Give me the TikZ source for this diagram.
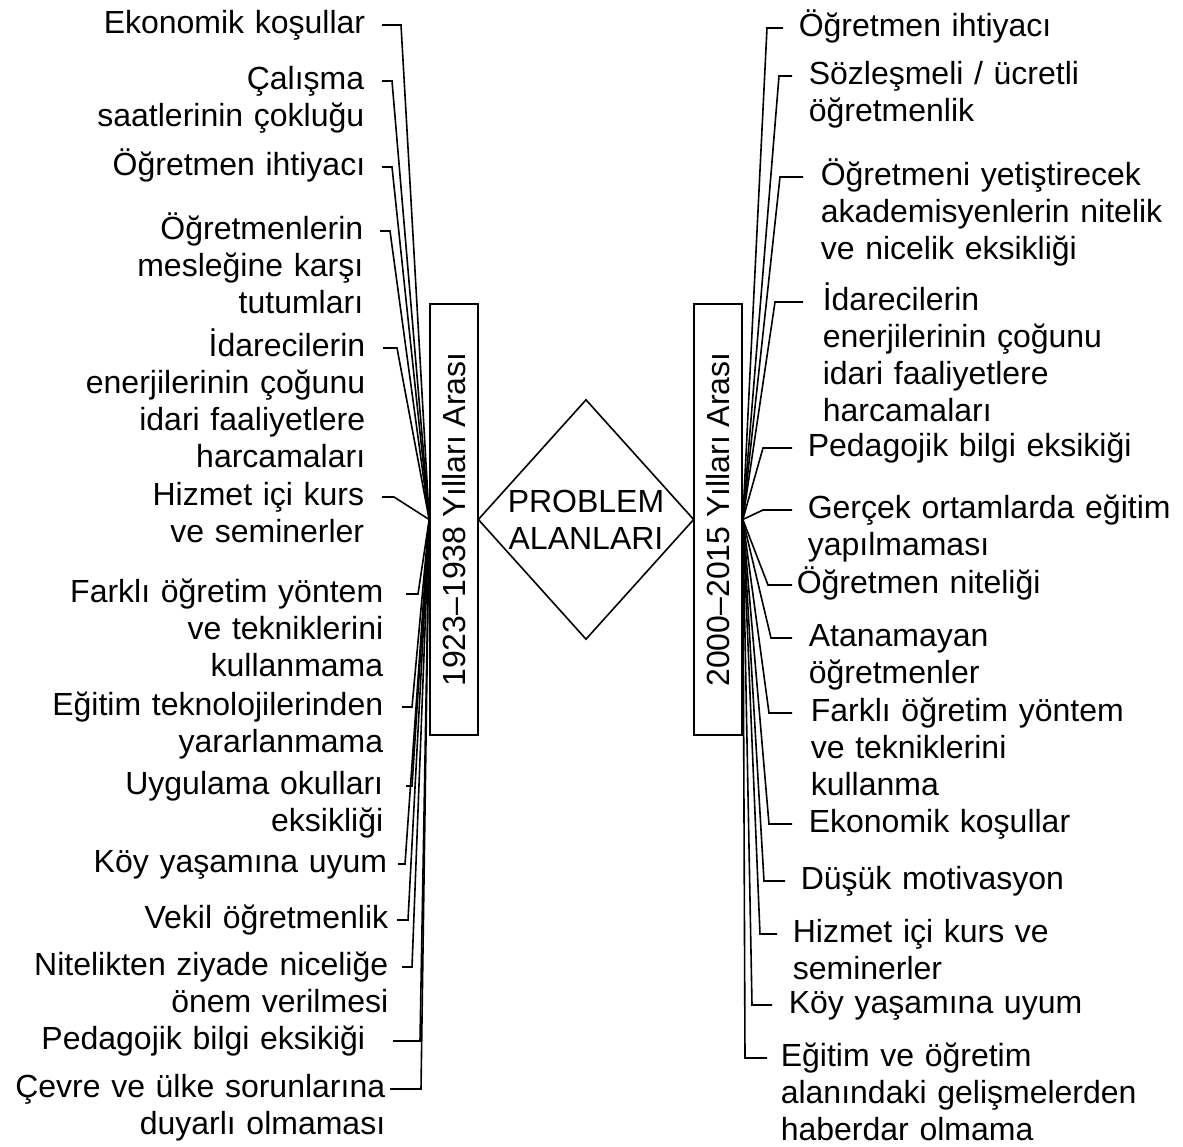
\documentclass[tikz,border=0pt]{standalone}
\usepackage{fontspec}
\setmainfont{Liberation Sans}
\usetikzlibrary{shapes.geometric}

\tikzset{
  yearbox/.style={draw,rotate=90,minimum width=215.5pt,minimum height=24pt,inner sep=0pt},
  leftlabel/.style={anchor=base east,text width=200pt,align=right,inner sep=0pt},
  rightlabel/.style={anchor=base west,text width=200pt,align=left,inner sep=0pt}
}

\begin{document}
\begin{tikzpicture}[x=0.5pt,y=-0.5pt,line width=0.8pt,font=\fontsize{16}{18.5}\selectfont]
  \useasboundingbox (0,0) rectangle (1183,1146);

  % orta kısım
  \node[draw,diamond,minimum width=108pt,minimum height=120pt,inner sep=0pt] (prob) at (586,519.5) {};
  \node[align=center,inner sep=0pt] (probtext) at (prob) {PROBLEM\\ALANLARI};
  \node[yearbox] (lbox) at (454,519.5) {1923–1938 Yılları Arası};
  \node[yearbox] (rbox) at (718,519.5) {2000–2015 Yılları Arası};

  % sol kollar
  \coordinate (la1) at (382,25);    \coordinate (lb1) at (401,25);
  \coordinate (la2) at (382,81);    \coordinate (lb2) at (392,81);
  \coordinate (la3) at (382,167);   \coordinate (lb3) at (392,167);
  \coordinate (la4) at (380,231);   \coordinate (lb4) at (390,231);
  \coordinate (la5) at (383,348);   \coordinate (lb5) at (397,348);
  \coordinate (la6) at (382,497);   \coordinate (lb6) at (394,497);
  \coordinate (la7) at (406,594);   \coordinate (lb7) at (418,594);
  \coordinate (la8) at (402,707);   \coordinate (lb8) at (412,707);
  \coordinate (la9) at (406,786);   \coordinate (lb9) at (412,786);
  \coordinate (la10) at (398,864); \coordinate (lb10) at (405,864);
  \coordinate (la11) at (397,920); \coordinate (lb11) at (408,920);
  \coordinate (la12) at (402,967); \coordinate (lb12) at (412,967);
  \coordinate (la13) at (393,1041); \coordinate (lb13) at (420,1041);
  \coordinate (la14) at (390,1089); \coordinate (lb14) at (421,1089);

  \draw (la1) -- (lb1) -- (lbox.north);
  \draw (la2) -- (lb2) -- (lbox.north);
  \draw (la3) -- (lb3) -- (lbox.north);
  \draw (la4) -- (lb4) -- (lbox.north);
  \draw (la5) -- (lb5) -- (lbox.north);
  \draw (la6) -- (lb6) -- (lbox.north);
  \draw (la7) -- (lb7) -- (lbox.north);
  \draw (la8) -- (lb8) -- (lbox.north);
  \draw (la9) -- (lb9) -- (lbox.north);
  \draw (la10) -- (lb10) -- (lbox.north);
  \draw (la11) -- (lb11) -- (lbox.north);
  \draw (la12) -- (lb12) -- (lbox.north);
  \draw (la13) -- (lb13) -- (lbox.north);
  \draw (la14) -- (lb14) -- (lbox.north);

  % sağ kollar
  \coordinate (ra1) at (767,28);    \coordinate (rb1) at (783,28);
  \coordinate (ra2) at (779,76);    \coordinate (rb2) at (792,76);
  \coordinate (ra3) at (780,177);   \coordinate (rb3) at (803,177);
  \coordinate (ra4) at (775,302);   \coordinate (rb4) at (803,302);
  \coordinate (ra5) at (763,448);   \coordinate (rb5) at (792,448);
  \coordinate (ra6) at (763,510);   \coordinate (rb6) at (792,510);
  \coordinate (ra7) at (768,585);   \coordinate (rb7) at (792,585);
  \coordinate (ra8) at (771,638);   \coordinate (rb8) at (792,638);
  \coordinate (ra9) at (769,713);   \coordinate (rb9) at (792,713);
  \coordinate (ra10) at (769,824); \coordinate (rb10) at (792,824);
  \coordinate (ra11) at (764,881); \coordinate (rb11) at (785,881);
  \coordinate (ra12) at (760,934); \coordinate (rb12) at (777,934);
  \coordinate (ra13) at (752,1005); \coordinate (rb13) at (772,1005);
  \coordinate (ra14) at (745,1058); \coordinate (rb14) at (767,1058);

  \draw (rbox.south) -- (ra1) -- (rb1);
  \draw (rbox.south) -- (ra2) -- (rb2);
  \draw (rbox.south) -- (ra3) -- (rb3);
  \draw (rbox.south) -- (ra4) -- (rb4);
  \draw (rbox.south) -- (ra5) -- (rb5);
  \draw (rbox.south) -- (ra6) -- (rb6);
  \draw (rbox.south) -- (ra7) -- (rb7);
  \draw (rbox.south) -- (ra8) -- (rb8);
  \draw (rbox.south) -- (ra9) -- (rb9);
  \draw (rbox.south) -- (ra10) -- (rb10);
  \draw (rbox.south) -- (ra11) -- (rb11);
  \draw (rbox.south) -- (ra12) -- (rb12);
  \draw (rbox.south) -- (ra13) -- (rb13);
  \draw (rbox.south) -- (ra14) -- (rb14);

  % sol etiketler
  \node[leftlabel] (l1) at (366,33) {Ekonomik koşullar};
  \node[leftlabel] (l2) at (365,89) {Çalışma\\saatlerinin çokluğu};
  \node[leftlabel] (l3) at (366,175) {Öğretmen ihtiyacı};
  \node[leftlabel] (l4) at (364,239) {Öğretmenlerin\\mesleğine karşı\\tutumları};
  \node[leftlabel] (l5) at (366,356) {İdarecilerin\\enerjilerinin çoğunu\\idari faaliyetlere\\harcamaları};
  \node[leftlabel] (l6) at (365,505) {Hizmet içi kurs\\ve seminerler};
  \node[leftlabel] (l7) at (384,602) {Farklı öğretim yöntem\\ve tekniklerini\\kullanmama};
  \node[leftlabel] (l8) at (384,715) {Eğitim teknolojilerinden\\yararlanmama};
  \node[leftlabel] (l9) at (384,794) {Uygulama okulları\\eksikliği};
  \node[leftlabel] (l10) at (388,872) {Köy yaşamına uyum};
  \node[leftlabel] (l11) at (389,928) {Vekil öğretmenlik};
  \node[leftlabel] (l12) at (389,975) {Nitelikten ziyade niceliğe\\önem verilmesi};
  \node[leftlabel] (l13) at (366,1049) {Pedagojik bilgi eksikiği};
  \node[leftlabel] (l14) at (386,1097) {Çevre ve ülke sorunlarına\\duyarlı olmaması};

  % sağ etiketler
  \node[rightlabel] (r1) at (798,36) {Öğretmen ihtiyacı};
  \node[rightlabel] (r2) at (808,84) {Sözleşmeli / ücretli\\öğretmenlik};
  \node[rightlabel] (r3) at (820,185) {Öğretmeni yetiştirecek\\akademisyenlerin nitelik\\ve nicelik eksikliği};
  \node[rightlabel] (r4) at (822,310) {İdarecilerin\\enerjilerinin çoğunu\\idari faaliyetlere\\harcamaları};
  \node[rightlabel] (r5) at (807,456) {Pedagojik bilgi eksikiği};
  \node[rightlabel] (r6) at (807,518) {Gerçek ortamlarda eğitim\\yapılmaması};
  \node[rightlabel] (r7) at (796,593) {Öğretmen niteliği};
  \node[rightlabel] (r8) at (808,646) {Atanamayan\\öğretmenler};
  \node[rightlabel] (r9) at (810,721) {Farklı öğretim yöntem\\ve tekniklerini\\kullanma};
  \node[rightlabel] (r10) at (808,832) {Ekonomik koşullar};
  \node[rightlabel] (r11) at (800,889) {Düşük motivasyon};
  \node[rightlabel] (r12) at (792,942) {Hizmet içi kurs ve\\seminerler};
  \node[rightlabel] (r13) at (788,1013) {Köy yaşamına uyum};
  \node[rightlabel] (r14) at (780,1066) {Eğitim ve öğretim\\alanındaki gelişmelerden\\haberdar olmama};
\end{tikzpicture}
\end{document}
